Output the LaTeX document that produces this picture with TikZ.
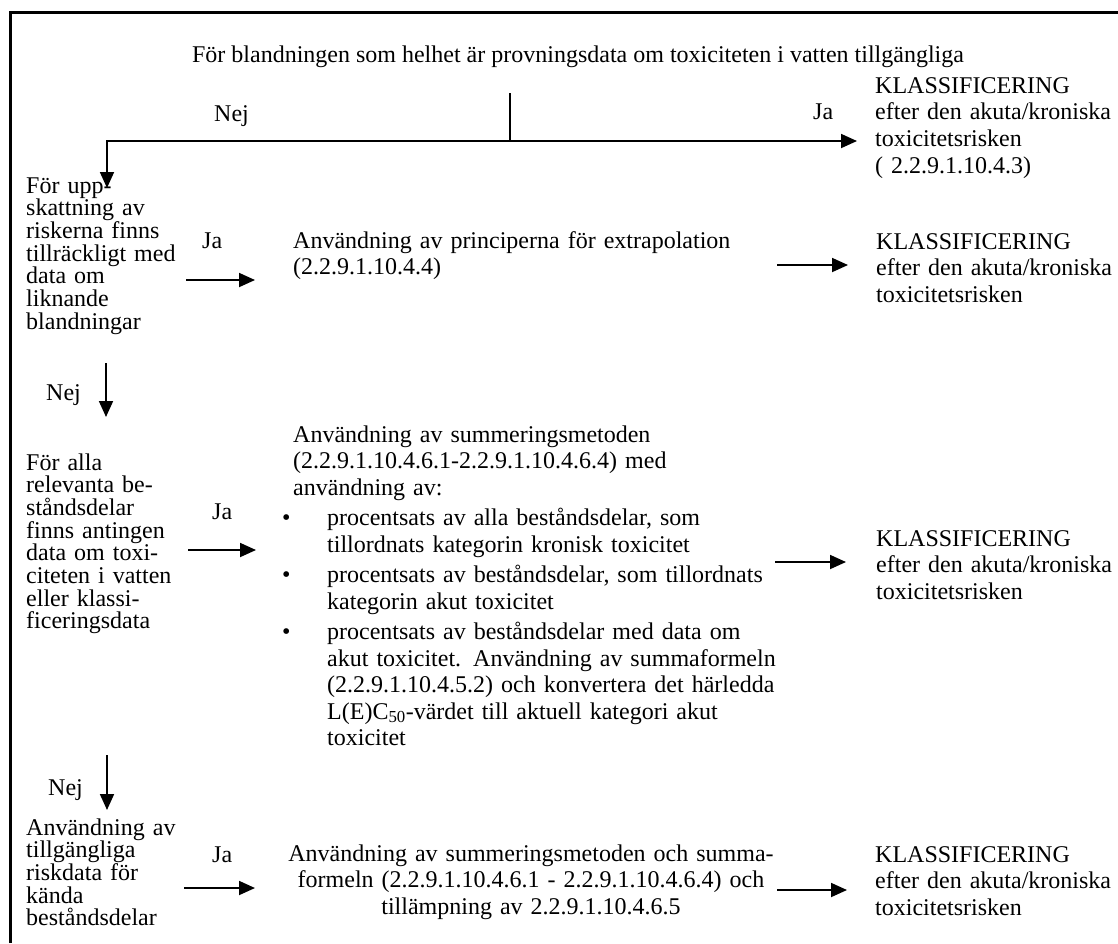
\documentclass[tikz,border=0pt]{standalone}
\usepackage{fontspec}
\setmainfont{Liberation Serif}
\usetikzlibrary{arrows.meta,positioning}

% bullet lines of the long middle text
\newcommand{\itemdot}[1]{\hspace*{-11pt}\makebox[45pt][l]{\textbullet}#1}
\newcommand{\itemcont}[1]{\hspace*{34pt}#1}
\setlength{\lineskiplimit}{-50pt}

\begin{document}
\begin{tikzpicture}[
    x=1pt, y=-1pt,
    lbl/.style={
        anchor=base west,
        inner sep=0pt,
        font=\fontsize{24}{26}\selectfont
    },
    tight/.style={
        lbl,
        align=left,
        text width=170pt,
        font=\fontsize{24}{22.7}\selectfont
    },
    loose/.style={
        lbl,
        align=left,
        text width=#1,
        font=\fontsize{24}{26.5}\selectfont
    },
    loose/.default=260pt,
    arrow/.style={
        -{Triangle[length=16pt,width=14pt]},
        line width=1.8pt
    },
    link/.style={
        line width=1.8pt
    }
]

\useasboundingbox (0,0) rectangle (1118,943);
\draw[line width=3pt] (10.5,943) -- (10.5,12.5) -- (1118,12.5);

% question on the whole mixture
\node[lbl, anchor=base] (title) at (578,62) {För blandningen som helhet är provningsdata om toxiciteten i vatten tillgängliga};
\node[lbl] (nej0) at (214,121) {Nej};
\node[lbl] (ja0) at (813,119) {Ja};
\node[loose, font=\fontsize{24}{26.7}\selectfont] (klass0) at (875,93) {KLASSIFICERING\\efter den akuta/kroniska\\toxicitetsrisken\\( 2.2.9.1.10.4.3)};

\coordinate (split) at (510,93);
\coordinate (fork) at (510,141);
\coordinate (q1in) at (107,188);
\coordinate (klass0in) at (857,141);

\draw[link] (split) -- (fork);
\draw[arrow] (fork) -| (q1in);
\draw[arrow] (fork) -- (klass0in);

% row 1: similar mixtures
\node[tight] (q1) at (26,193) {För upp-\\skattning av\\riskerna finns\\tillräckligt med\\data om\\liknande\\blandningar};
\node[lbl] (ja1) at (202,248) {Ja};
\node[loose=460pt, font=\fontsize{24}{26}\selectfont] (step1) at (293,248) {Användning av principerna för extrapolation\\(2.2.9.1.10.4.4)};
\node[loose] (klass1) at (876,249) {KLASSIFICERING\\efter den akuta/kroniska\\toxicitetsrisken};

\coordinate (ja1a) at (186,280);
\coordinate (ja1b) at (255,280);
\coordinate (klass1a) at (777,265);
\coordinate (klass1b) at (848,265);
\draw[arrow] (ja1a) -- (ja1b);
\draw[arrow] (klass1a) -- (klass1b);

\coordinate (nej1a) at (106,363);
\coordinate (nej1b) at (106,417);
\node[lbl] (nej1) at (46,400) {Nej};
\draw[arrow] (nej1a) -- (nej1b);

% row 2: all relevant components
\node[tight] (q2) at (26,470) {För alla\\relevanta be-\\ståndsdelar\\finns antingen\\data om toxi-\\citeten i vatten\\eller klassi-\\ficeringsdata};
\node[lbl] (ja2) at (212,519) {Ja};
\node[loose=520pt] (step2) at (293,442) {Användning av summeringsmetoden\\
(2.2.9.1.10.4.6.1-2.2.9.1.10.4.6.4) med\\
användning av:\\[4pt]
\itemdot{procentsats av alla beståndsdelar, som}\\
\itemcont{tillordnats kategorin kronisk toxicitet}\\[4pt]
\itemdot{procentsats av beståndsdelar, som tillordnats}\\
\itemcont{kategorin akut toxicitet}\\[4pt]
\itemdot{procentsats av beståndsdelar med data om}\\
\itemcont{akut toxicitet.  Användning av summaformeln}\\
\itemcont{(2.2.9.1.10.4.5.2) och konvertera det härledda}\\
\itemcont{L(E)C\textsubscript{50}-värdet till aktuell kategori akut}\\
\itemcont{toxicitet}};
\node[loose] (klass2) at (876,546) {KLASSIFICERING\\efter den akuta/kroniska\\toxicitetsrisken};

\coordinate (ja2a) at (188,550);
\coordinate (ja2b) at (256,550);
\coordinate (klass2a) at (775,562);
\coordinate (klass2b) at (846,562);
\draw[arrow] (ja2a) -- (ja2b);
\draw[arrow] (klass2a) -- (klass2b);

\coordinate (nej2a) at (107,755);
\coordinate (nej2b) at (107,810);
\node[lbl] (nej2) at (48,795) {Nej};
\draw[arrow] (nej2a) -- (nej2b);

% row 3: known components
\node[tight] (q3) at (26,835) {Användning av\\tillgängliga\\riskdata för\\kända\\beståndsdelar};
\node[lbl] (ja3) at (212,862) {Ja};
\node[loose=520pt, align=center, anchor=base, font=\fontsize{24}{26.5}\selectfont] (step3) at (531,861) {Användning av summeringsmetoden och summa-\\formeln (2.2.9.1.10.4.6.1 - 2.2.9.1.10.4.6.4) och\\tillämpning av 2.2.9.1.10.4.6.5};
\node[loose] (klass3) at (875,862) {KLASSIFICERING\\efter den akuta/kroniska\\toxicitetsrisken};

\coordinate (ja3a) at (184,888);
\coordinate (ja3b) at (255,888);
\coordinate (klass3a) at (777,890);
\coordinate (klass3b) at (847,890);
\draw[arrow] (ja3a) -- (ja3b);
\draw[arrow] (klass3a) -- (klass3b);

\end{tikzpicture}
\end{document}
